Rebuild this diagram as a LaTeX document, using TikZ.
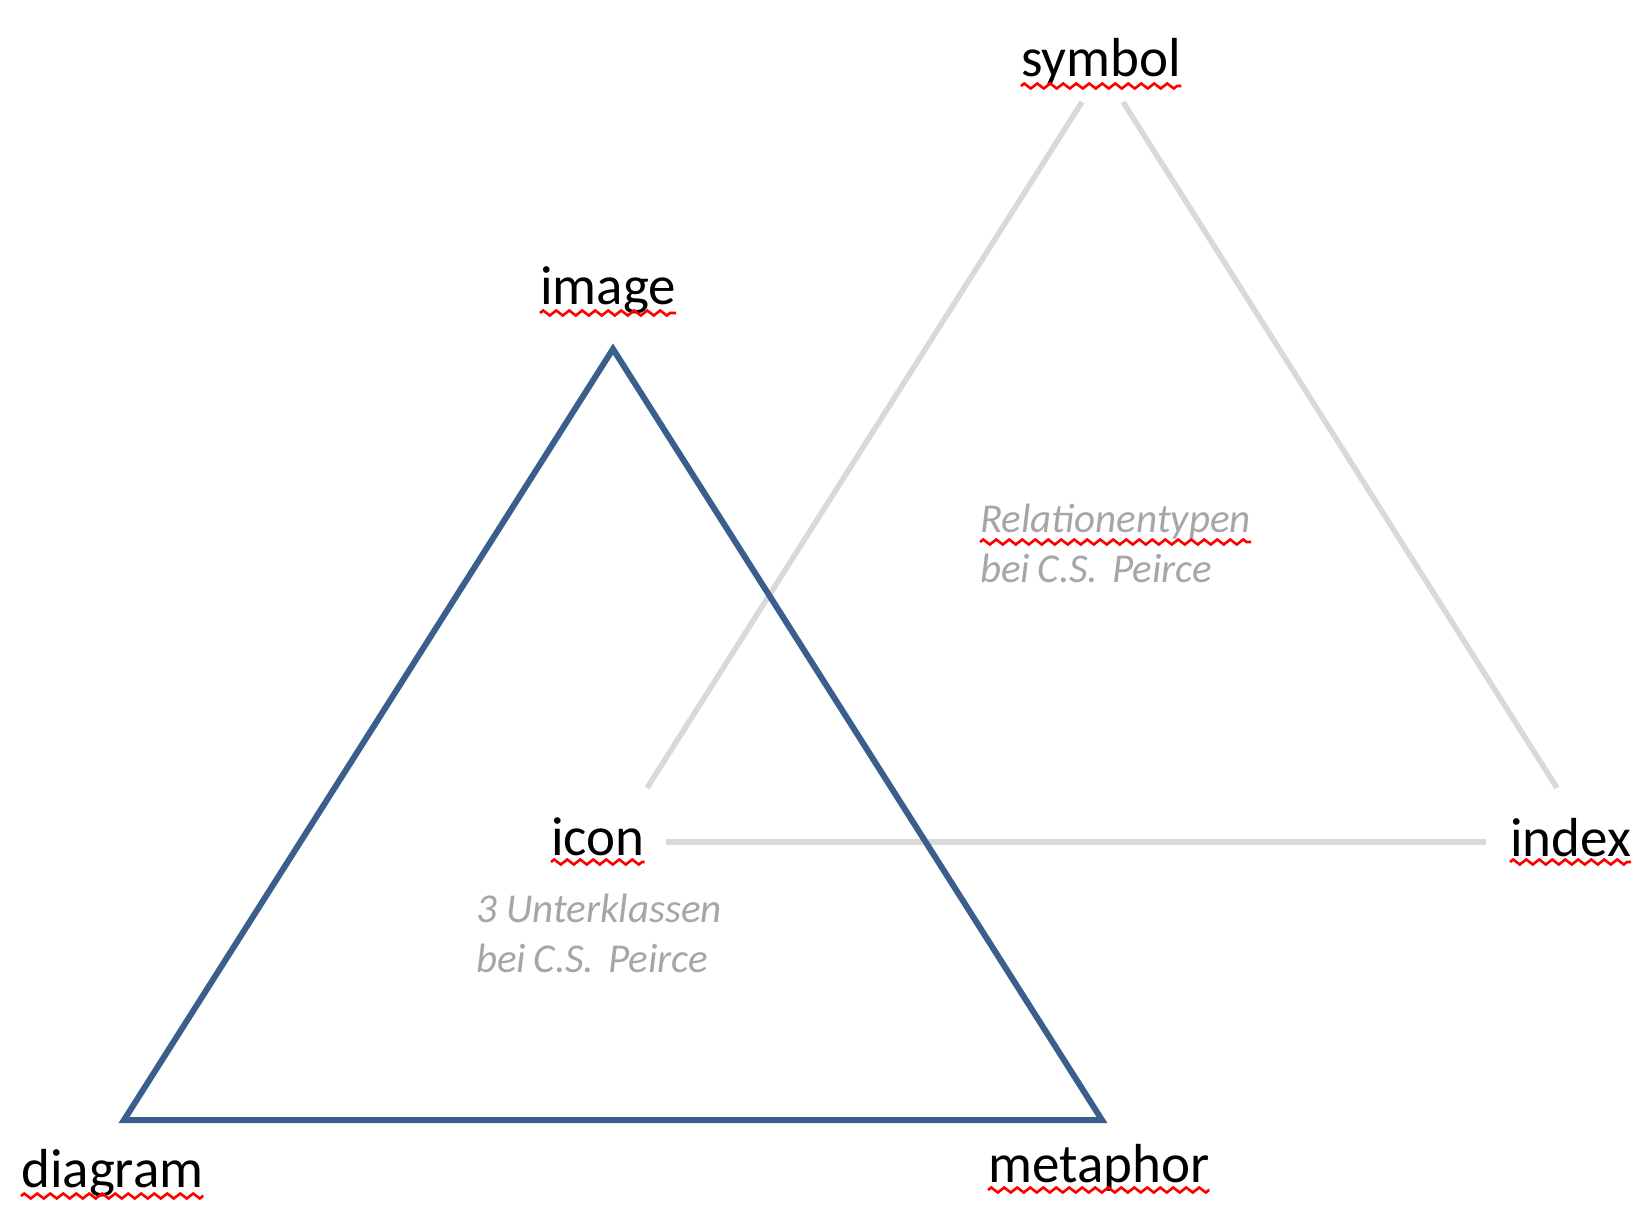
\documentclass[tikz,border=0pt]{standalone}
\usepackage{fontspec}
\setmainfont{Carlito}
\usetikzlibrary{decorations.pathmorphing}
\definecolor{peirceblue}{HTML}{3A5F8C}
\definecolor{relgray}{HTML}{D9D9D9}
\definecolor{notegray}{HTML}{A6A6A6}
\begin{document}
\begin{tikzpicture}[x=1pt,y=-1pt,
  term/.style={inner sep=0pt, anchor=base west, font=\fontsize{55}{62}\selectfont},
  note/.style={inner sep=0pt, anchor=base west, text=notegray, align=left,
               font=\fontsize{41}{50}\selectfont\itshape},
  relation/.style={draw=relgray, line width=5.5pt},
  subclass/.style={draw=peirceblue, line width=6pt, line join=miter},
  squiggle/.style={draw=red, line width=2.6pt,
                   decorate, decoration={zigzag, segment length=13pt, amplitude=2.5pt}}]
\useasboundingbox (0,0) rectangle (1652,1215);

% corner labels
\node[term] (sym) at (1021,77) {symbol};
\node[term] (img) at (540,304) {image};
\node[term] (ico) at (551,855) {icon};
\node[term] (idx) at (1510,856) {index};
\node[term] (dia) at (21,1187) {diagram};
\node[term] (met) at (988,1182) {metaphor};

% explanatory notes (placed by the baseline of their last line)
\node[note] (rel) at (980,582) {Relationentypen\\bei\hspace{0.18em}C.S.\hspace{0.12em} Peirce};
\node[note] (sub) at (476,972) {3 Unterklassen\\bei\hspace{0.18em}C.S.\hspace{0.12em} Peirce};

% corners of the two triangles
\coordinate (sL) at (1082,102);
\coordinate (sR) at (1123,102);
\coordinate (iT) at (647,788);
\coordinate (iR) at (666,842);
\coordinate (xL) at (1486,842);
\coordinate (xT) at (1557,788);
\coordinate (top) at (613,349);
\coordinate (bl) at (124,1120);
\coordinate (br) at (1102,1120);

% relation types (icon - index - symbol)
\draw[relation] (sL) -- (iT);
\draw[relation] (sR) -- (xT);
\draw[relation] (iR) -- (xL);

% subclasses of icon
\draw[subclass] (top) -- (bl) -- (br) -- cycle;

% spell-check underlines
\draw[squiggle] ([yshift=-9pt]sym.base west) -- ([yshift=-9pt]sym.base east);
\draw[squiggle] ([yshift=-9pt]img.base west) -- ([yshift=-9pt]img.base east);
\draw[squiggle] ([yshift=-7pt]ico.base west) -- ([yshift=-7pt]ico.base east);
\draw[squiggle] ([yshift=-6pt]idx.base west) -- ([yshift=-6pt]idx.base east);
\draw[squiggle] ([yshift=-9pt]dia.base west) -- ([yshift=-9pt]dia.base east);
\draw[squiggle] ([yshift=-8pt]met.base west) -- ([yshift=-8pt]met.base east);
\draw[squiggle] (980,542) -- (1251,542);
\end{tikzpicture}
\end{document}
